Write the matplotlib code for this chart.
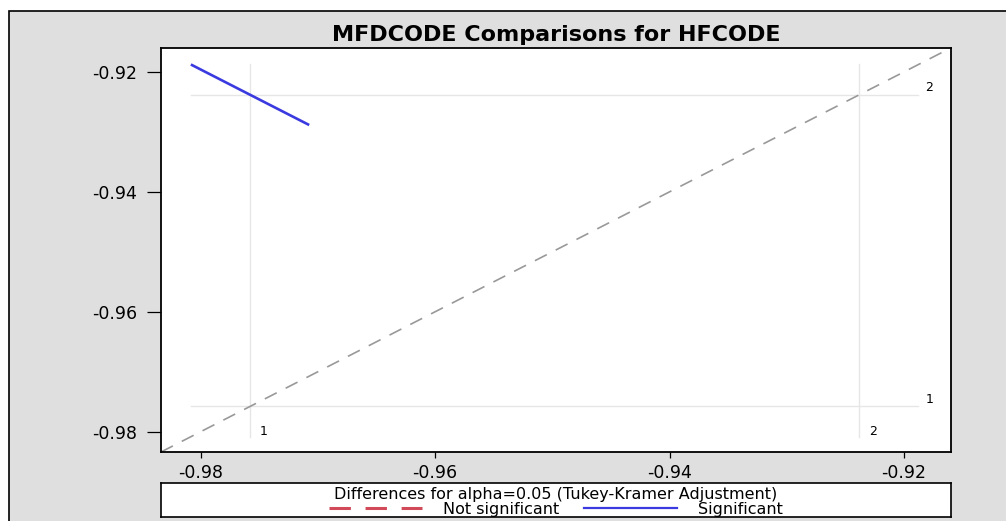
import matplotlib
matplotlib.use("Agg")
import matplotlib.pyplot as plt
from matplotlib.patches import Rectangle
from matplotlib.lines import Line2D

# ---- data ----
title = "MFDCODE Comparisons for HFCODE"
levels = ["1", "2"]
lsmeans = [-0.9758, -0.9238]           # LS-means of HFCODE levels 1, 2
seg_halfwidth = 0.00505                # half-extent of the comparison segment
significant = [True]                   # comparison 1 vs 2
axis_limits = [-0.9834, -0.9160]
ticks = [-0.98, -0.96, -0.94, -0.92]
tick_labels = ["-0.98", "-0.96", "-0.94", "-0.92"]
legend_title = "Differences for alpha=0.05 (Tukey-Kramer Adjustment)"
legend_labels = ["Not significant", "Significant"]

BG = "#dfdfdf"
BLUE = "#3a3ae0"
RED = "#d24a5a"
REF = "#e6e6e6"
DIAG = "#999999"

W, H = 1006, 521
fig = plt.figure(figsize=(W / 100, H / 100), dpi=100, facecolor="white")

# outer gray panel with black border
fig.patches.append(Rectangle((9 / W, -0.01), 1.0, 1 - 11 / H + 0.01,
                             transform=fig.transFigure, facecolor=BG,
                             edgecolor="black", linewidth=1.2, zorder=-10))

ax = fig.add_axes([161 / W, 1 - 452 / H, (950.7 - 161) / W, (452 - 48) / H])
ax.set_facecolor("white")
ax.set_xlim(axis_limits)
ax.set_ylim(axis_limits)

# diagonal reference
ax.plot(axis_limits, axis_limits, color=DIAG, linewidth=1.2,
        dashes=(8, 6), zorder=2)

# reference lines at LS-means
m1, m2 = lsmeans
lo = m1 - seg_halfwidth
hi = m2 + seg_halfwidth
for m in lsmeans:
    ax.plot([m, m], [lo, hi], color=REF, linewidth=1.0, zorder=1)
    ax.plot([lo, hi], [m, m], color=REF, linewidth=1.0, zorder=1)

# level labels
for lab, m in zip(levels, lsmeans):
    ax.annotate(lab, xy=(m, lo), xytext=(7, 4), textcoords="offset points",
                ha="left", va="center", fontsize=9, family="DejaVu Sans")
    ax.annotate(lab, xy=(hi, m), xytext=(5, 5), textcoords="offset points",
                ha="left", va="center", fontsize=9, family="DejaVu Sans")

# comparison segment
col = BLUE if significant[0] else RED
ax.plot([m1 - seg_halfwidth, m1 + seg_halfwidth],
        [m2 + seg_halfwidth, m2 - seg_halfwidth],
        color=col, linewidth=1.9, solid_capstyle="butt", zorder=3)

ax.set_xticks(ticks)
ax.set_xticklabels(tick_labels)
ax.set_yticks(ticks)
ax.set_yticklabels(tick_labels)
ax.tick_params(axis="y", length=10, width=0.9, pad=7, labelsize=12.5)
ax.tick_params(axis="x", length=4.3, width=0.9, pad=4, labelsize=12.5)
for s in ax.spines.values():
    s.set_linewidth(1.3)
ax.set_title(title, fontsize=16, fontweight="bold", family="DejaVu Sans", pad=5)

# legend box
lax = fig.add_axes([161 / W, 1 - 516.7 / H, (950.7 - 161) / W, 33.7 / H])
lax.set_xticks([])
lax.set_yticks([])
lax.set_facecolor("white")
for s in lax.spines.values():
    s.set_linewidth(1.2)
handles = [Line2D([], [], color=RED, linewidth=2.2, dashes=(7.0, 4.8),
                  dash_capstyle="butt"),
           Line2D([], [], color=BLUE, linewidth=1.6)]
leg = lax.legend(handles, legend_labels, loc="center", ncol=2, frameon=False,
                 bbox_to_anchor=(0.5, 0.45),
                 title=legend_title, fontsize=11.5, title_fontsize=11.5,
                 borderpad=0, labelspacing=0, handlelength=5.8,
                 handletextpad=1.3, columnspacing=1.6, borderaxespad=0)
leg._legend_box.sep = 0

fig.savefig("out.png", dpi=100, facecolor="white")
